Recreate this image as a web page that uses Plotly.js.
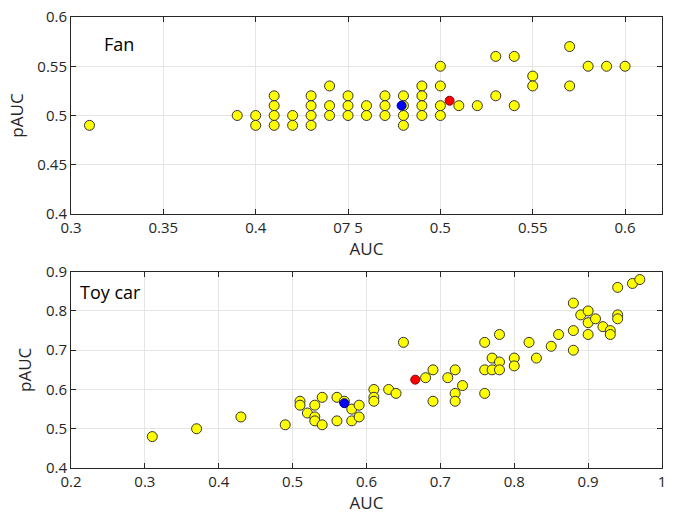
<!DOCTYPE html>
<html>
<head>
<meta charset="utf-8">
<script src="https://cdn.plot.ly/plotly-3.0.1.min.js"></script>
<style>html,body{margin:0;padding:0;background:#fff;}#chart{width:679px;height:514px;}</style>
</head>
<body>
<div id="chart"></div>
<script>
// ---- Fan panel data ----
const fanAUC = [0.31,0.39,0.40,0.40,0.41,0.41,0.41,0.41,0.42,0.42,0.43,0.43,0.43,0.43,
  0.44,0.44,0.44,0.45,0.45,0.45,0.46,0.46,0.47,0.47,0.47,0.48,0.48,0.48,0.48,
  0.49,0.49,0.49,0.49,0.50,0.50,0.50,0.50,0.51,0.52,0.53,0.53,0.54,0.54,0.55,0.55,
  0.57,0.57,0.58,0.59,0.60];
const fanPAUC = [0.49,0.50,0.50,0.49,0.52,0.51,0.50,0.49,0.50,0.49,0.52,0.51,0.50,0.49,
  0.53,0.51,0.50,0.52,0.51,0.50,0.51,0.50,0.52,0.51,0.50,0.52,0.51,0.50,0.49,
  0.53,0.52,0.51,0.50,0.55,0.53,0.51,0.50,0.51,0.51,0.56,0.52,0.56,0.51,0.54,0.53,
  0.57,0.53,0.55,0.55,0.55];
const fanBlue = {auc: [0.479], pauc: [0.51]};
const fanRed = {auc: [0.505], pauc: [0.515]};
const fanTickVals = [0.3,0.35,0.4,0.45,0.5,0.55,0.6];
const fanTickText = ["0.3","0.35","0.4","07 5","0.5","0.55","0.6"];
const fanYTicks = [0.4,0.45,0.5,0.55,0.6];
const fanYText = ["0.4","0.45","0.5","0.55","0.6"];

// ---- Toy car panel data ----
const toyAUC = [0.31,0.37,0.43,0.49,0.51,0.51,0.52,0.53,0.53,0.53,0.54,0.54,0.56,0.56,0.57,
  0.58,0.58,0.59,0.59,0.61,0.61,0.61,0.63,0.64,0.65,0.68,0.69,0.69,0.71,0.72,0.72,0.72,
  0.73,0.76,0.76,0.76,0.77,0.77,0.78,0.78,0.78,0.80,0.80,0.82,0.83,0.85,0.86,
  0.88,0.88,0.88,0.89,0.90,0.90,0.90,0.91,0.92,0.93,0.93,0.94,0.94,0.94,0.96,0.97];
const toyPAUC = [0.48,0.50,0.53,0.51,0.57,0.56,0.54,0.56,0.53,0.52,0.58,0.51,0.58,0.52,0.57,
  0.55,0.52,0.56,0.53,0.60,0.58,0.57,0.60,0.59,0.72,0.63,0.65,0.57,0.63,0.65,0.59,0.57,
  0.61,0.72,0.65,0.59,0.68,0.65,0.74,0.67,0.65,0.68,0.66,0.72,0.68,0.71,0.74,
  0.82,0.75,0.70,0.79,0.80,0.77,0.74,0.78,0.76,0.75,0.74,0.86,0.79,0.78,0.87,0.88];
const toyBlue = {auc: [0.57], pauc: [0.565]};
const toyRed = {auc: [0.666], pauc: [0.625]};
const toyTickVals = [0.2,0.3,0.4,0.5,0.6,0.7,0.8,0.9,1];
const toyTickText = ["0.2","0.3","0.4","0.5","0.6","0.7","0.8","0.9","1"];
const toyYTicks = [0.4,0.5,0.6,0.7,0.8,0.9];
const toyYText = ["0.4","0.5","0.6","0.7","0.8","0.9"];

const FONT = "'Open Sans', 'Noto Sans', sans-serif";
const TXT = '#262626';

function pts(x, y, xa, ya, fill, edge, size) {
  return {x: x, y: y, xaxis: xa, yaxis: ya, type: 'scatter', mode: 'markers',
    marker: {color: fill, size: size, line: {color: edge, width: 1}},
    hoverinfo: 'skip', showlegend: false, cliponaxis: false};
}

const data = [
  pts(fanAUC, fanPAUC, 'x', 'y', '#ffff00', '#333333', 10),
  pts(fanBlue.auc, fanBlue.pauc, 'x', 'y', '#0000ff', '#00008a', 9),
  pts(fanRed.auc, fanRed.pauc, 'x', 'y', '#ff0000', '#8a0000', 9),
  pts(toyAUC, toyPAUC, 'x2', 'y2', '#ffff00', '#333333', 10),
  pts(toyBlue.auc, toyBlue.pauc, 'x2', 'y2', '#0000ff', '#00008a', 9),
  pts(toyRed.auc, toyRed.pauc, 'x2', 'y2', '#ff0000', '#8a0000', 9)
];

function axis(extra) {
  return Object.assign({
    showline: true, linecolor: TXT, linewidth: 1, mirror: 'ticks',
    ticks: 'inside', ticklen: 5, tickcolor: TXT, tickwidth: 1,
    showgrid: true, gridcolor: '#e5e5e5', gridwidth: 1, zeroline: false,
    tickfont: {family: FONT, size: 15, color: TXT},
    tickmode: 'array', fixedrange: true
  }, extra);
}

const TF = {family: FONT, size: 17, color: TXT};

const layout = {
  width: 679, height: 514,
  margin: {l: 71, r: 17, t: 17, b: 46},
  paper_bgcolor: '#ffffff', plot_bgcolor: '#ffffff',
  font: {family: FONT, color: TXT},
  xaxis: axis({range: [0.3, 0.62], tickvals: fanTickVals, ticktext: fanTickText,
    domain: [0, 1], anchor: 'y',
    title: {text: 'AUC', font: TF, standoff: 4}}),
  yaxis: axis({range: [0.4, 0.6], tickvals: fanYTicks, ticktext: fanYText,
    domain: [0.5632, 1], anchor: 'x',
    title: {text: 'pAUC', font: TF, standoff: 9}}),
  xaxis2: axis({range: [0.2, 1], tickvals: toyTickVals, ticktext: toyTickText,
    domain: [0, 1], anchor: 'y2',
    title: {text: 'AUC', font: TF, standoff: 4}}),
  yaxis2: axis({range: [0.4, 0.9], tickvals: toyYTicks, ticktext: toyYText,
    domain: [0, 0.4353], anchor: 'x2',
    title: {text: 'pAUC', font: TF, standoff: 9}}),
  annotations: [
    {text: 'Fan', xref: 'x domain', yref: 'y domain', x: 0.052, y: 0.863,
     xanchor: 'left', yanchor: 'middle', showarrow: false,
     font: {family: FONT, size: 18, color: '#000000'}},
    {text: 'Toy car', xref: 'x2 domain', yref: 'y2 domain', x: 0.011, y: 0.896,
     xanchor: 'left', yanchor: 'middle', showarrow: false,
     font: {family: FONT, size: 18, color: '#000000'}}
  ]
};

Plotly.newPlot('chart', data, layout, {staticPlot: true, displayModeBar: false});
</script>
</body>
</html>
